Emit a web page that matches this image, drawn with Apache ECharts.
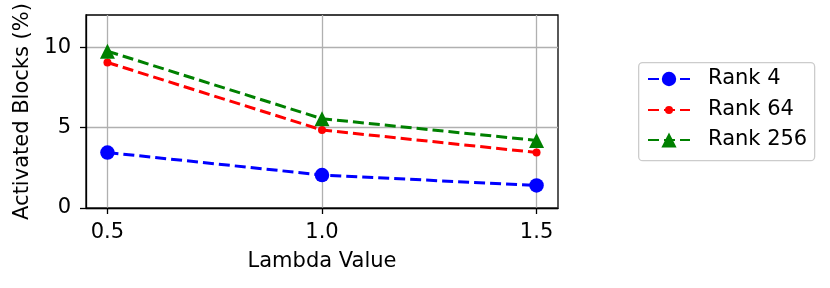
<!DOCTYPE html>
<html><head><meta charset="utf-8">
<script src="https://cdn.jsdelivr.net/npm/echarts@6/dist/echarts.min.js"></script>
<style>html,body{margin:0;padding:0;background:#fff}#c{width:830px;height:288px}</style>
</head><body><div id="c"></div>
<script>
const lambdas = [0.5, 1.0, 1.5];
const rank4 = [3.45, 2.05, 1.4];
const rank64 = [9.05, 4.85, 3.45];
const rank256 = [9.75, 5.55, 4.2];
const xTicks = [0.5, 1.0, 1.5];
const yTicks = [0, 5, 10];
const seriesNames = ['Rank 4', 'Rank 64', 'Rank 256'];

const FONT = 'DejaVu Sans';
const FS = 21;
const pts = arr => lambdas.map((x, i) => [x, arr[i]]);
const dash = [11, 5];

const legendTops = [68.5, 99.5, 129.5];
const legendIconH = [18, 10, 19];
const legends = seriesNames.map((n, i) => ({
  orient: 'vertical', left: 647, top: legendTops[i], padding: 0,
  itemGap: 0, itemWidth: 42, itemHeight: legendIconH[i],
  textStyle: {fontFamily: FONT, fontSize: FS, color: '#000', padding: [0, 0, 0, 13]},
  data: [n]
}));

const chart = echarts.init(document.getElementById('c'), null, {renderer: 'canvas'});
chart.setOption({
  animation: false,
  textStyle: {fontFamily: FONT},
  grid: {left: 86, right: 272, top: 15, bottom: 80, show: true, borderColor: '#000', borderWidth: 1.3, containLabel: false},
  xAxis: {
    type: 'value', min: 0.45, max: 1.55,
    name: 'Lambda Value', nameLocation: 'middle', nameGap: 43,
    nameTextStyle: {fontFamily: FONT, fontSize: FS, color: '#000'},
    axisLine: {show: true, lineStyle: {color: '#000', width: 1.3}},
    axisTick: {show: true, length: 6, inside: false, customValues: xTicks, lineStyle: {color: '#000', width: 1.3}},
    axisLabel: {customValues: xTicks, formatter: v => v.toFixed(1), fontFamily: FONT, fontSize: FS, color: '#000', margin: 14},
    splitLine: {show: true, customValues: xTicks, lineStyle: {color: '#b0b0b0', width: 1.3}}
  },
  yAxis: {
    type: 'value', min: 0, max: 12, interval: 5,
    name: 'Activated Blocks (%)', nameLocation: 'middle', nameGap: 50,
    nameTextStyle: {fontFamily: FONT, fontSize: FS, color: '#000'},
    axisLine: {show: true, lineStyle: {color: '#000', width: 1.3}},
    axisTick: {show: true, length: 6, customValues: yTicks, lineStyle: {color: '#000', width: 1.3}},
    axisLabel: {customValues: yTicks, fontFamily: FONT, fontSize: FS, color: '#000', margin: 15},
    splitLine: {show: true, lineStyle: {color: '#b0b0b0', width: 1.3}}
  },
  graphic: [{
    type: 'rect', left: 638, top: 62, z: -1,
    shape: {width: 176, height: 98, r: 4},
    style: {fill: '#fff', stroke: '#cccccc', lineWidth: 1.3}
  }],
  legend: legends,
  series: [
    {name: seriesNames[0], type: 'line', data: pts(rank4), symbol: 'circle', symbolSize: 14.5,
     itemStyle: {color: '#0000ff'}, lineStyle: {color: '#0000ff', width: 3, type: dash}, z: 3},
    {name: seriesNames[1], type: 'line', data: pts(rank64), symbol: 'circle', symbolSize: 8,
     itemStyle: {color: '#ff0000'}, lineStyle: {color: '#ff0000', width: 3, type: dash}, z: 4},
    {name: seriesNames[2], type: 'line', data: pts(rank256), symbol: 'triangle', symbolSize: [15, 15],
     itemStyle: {color: '#008000'}, lineStyle: {color: '#008000', width: 3, type: dash}, z: 5}
  ]
});
</script></body></html>
